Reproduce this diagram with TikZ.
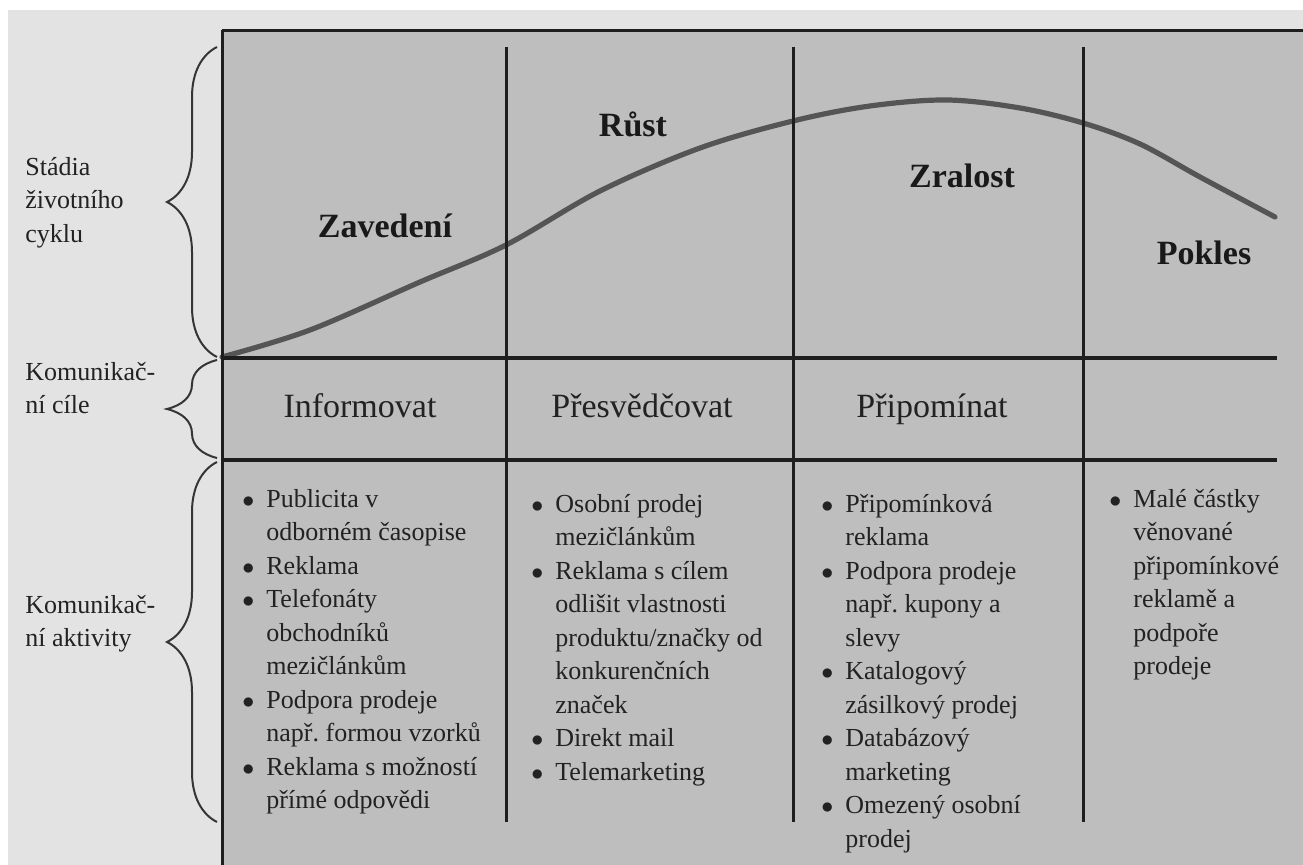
\documentclass[tikz,border=0pt]{standalone}
\usepackage{fontspec}
\setmainfont{Liberation Serif}
\usetikzlibrary{decorations.pathreplacing}
\definecolor{cback}{HTML}{E3E3E3}
\definecolor{cpanel}{HTML}{BEBEBE}
\definecolor{cline}{HTML}{1E1E1E}
\definecolor{ccurve}{HTML}{555555}
\definecolor{ctext}{HTML}{222222}
\newcommand{\bul}{\llap{$\bullet$\hspace{6pt}}}
\frenchspacing
\tikzset{
  divline/.style={draw=cline, line width=1.5pt},
  lifecurve/.style={draw=ccurve, line width=2.6pt, line cap=round},
  brace/.style={draw=cline!90, line width=1pt, decorate, decoration={brace, amplitude=25pt}},
  stage/.style={font=\fontsize{17}{20}\selectfont\bfseries, text=black!90, anchor=base, inner sep=0pt},
  goal/.style={font=\fontsize{17}{20}\selectfont, text=ctext, anchor=base, inner sep=0pt},
  lst/.style={font=\fontsize{13}{16.75}\selectfont, text=ctext, align=left, anchor=north west, inner sep=0pt, execute at begin node=\strut},
}

\begin{document}
\begin{tikzpicture}[x=0.5pt, y=-0.5pt]
  \useasboundingbox (0,0) rectangle (1303,865);
  \fill[cback] (8,10) rectangle (1303,865);
  \fill[cpanel] (222,30) rectangle (1303,865);
  % life cycle curve
  \draw[lifecurve] plot[smooth, tension=0.55] coordinates {(222,357) (310,330) (420,282) (506,245) (600,191) (700,148) (793,121) (870,106) (947,100) (1020,108) (1083,123) (1140,144) (1200,177) (1275,217)};
  % frame and dividers
  \draw[divline] (222,31) -- (1303,31);
  \draw[divline] (222,30) -- (222,865);
  \foreach \y in {358,460} \draw[divline, line width=2pt] (222,\y) -- (1277,\y);
  \foreach \x in {506,793,1083} \draw[divline] (\x,47) -- (\x,822);
  % braces on the left
  \draw[brace] (217,357) -- (217,47);
  \draw[brace] (217,458) -- (217,360);
  \draw[brace] (217,822) -- (217,462);
  \node[lst] (lstadia) at (25,157) {Stádia\\životního\\cyklu};
  \node[lst] (lcile) at (25,362) {Komunikač-\\ní cíle};
  \node[lst] (lakt) at (25,595) {Komunikač-\\ní aktivity};
  % stages
  \node[stage] (zav) at (385,238) {Zavedení};
  \node[stage] (rust) at (633,137) {Růst};
  \node[stage] (zral) at (962,188) {Zralost};
  \node[stage] (pok) at (1204,265) {Pokles};
  % goals
  \node[goal] (inf) at (360,418) {Informovat};
  \node[goal] (pres) at (642,418) {Přesvědčovat};
  \node[goal] (prip) at (932,418) {Připomínat};
  % activities
  \node[lst] (akt1) at (266,489) {\bul Publicita v\\odborném časopise\\\bul Reklama\\\bul Telefonáty\\obchodníků\\mezičlánkům\\\bul Podpora prodeje\\např. formou vzorků\\\bul Reklama s možností\\přímé odpovědi};
  \node[lst] (akt2) at (555,494) {\bul Osobní prodej\\mezičlánkům\\\bul Reklama s cílem\\odlišit vlastnosti\\produktu/značky od\\konkurenčních\\značek\\\bul Direkt mail\\\bul Telemarketing};
  \node[lst] (akt3) at (845,494) {\bul Připomínková\\reklama\\\bul Podpora prodeje\\např. kupony a\\slevy\\\bul Katalogový\\zásilkový prodej\\\bul Databázový\\marketing\\\bul Omezený osobní\\prodej};
  \node[lst] (akt4) at (1133,489) {\bul Malé částky\\věnované\\připomínkové\\reklamě a\\podpoře\\prodeje};
\end{tikzpicture}
\end{document}
